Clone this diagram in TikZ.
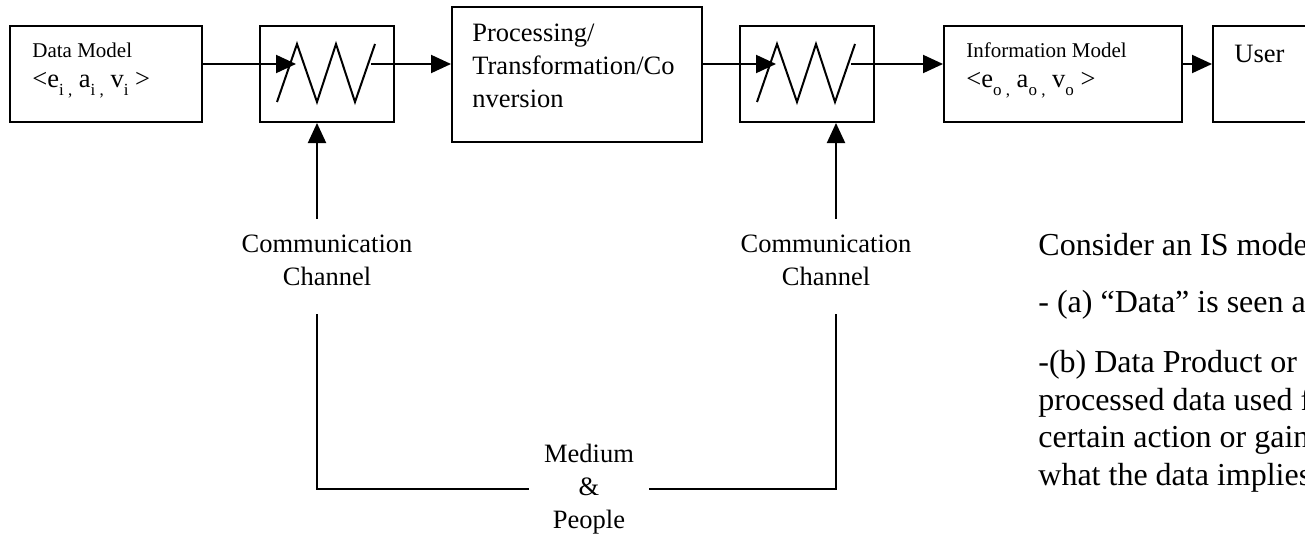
\documentclass[tikz,border=0pt]{standalone}
\usepackage{fontspec}
\setmainfont{Liberation Serif}
\usetikzlibrary{arrows.meta,calc}
\newcommand{\lowidx}[1]{\raisebox{-4pt}{\fontsize{8.5pt}{8.5pt}\selectfont #1}}
\tikzset{
  box/.style={draw,line width=1pt,inner sep=0pt,minimum height=48pt},
  flow/.style={line width=1pt,-{Triangle[length=10pt,width=9pt]}},
  wire/.style={line width=1pt},
  smalltxt/.style={inner sep=0pt,font=\fontsize{10.5pt}{12pt}\selectfont},
  midtxt/.style={inner sep=0pt,font=\fontsize{13.25pt}{16.5pt}\selectfont},
  bigtxt/.style={inner sep=0pt,font=\fontsize{16pt}{18.75pt}\selectfont}
}
\begin{document}
\begin{tikzpicture}[x=0.5pt,y=-0.5pt]
    \useasboundingbox (0,0) rectangle (1305,535);
    \clip (0,0) rectangle (1305,535);

    \node[box,minimum width=96pt] (dm) at (106,74) {};
    \node[box,minimum width=67pt] (f1) at (327,74) {};
    \node[box,minimum width=125pt,minimum height=67.5pt] (proc) at (577,74.5) {};
    \node[box,minimum width=67pt] (f2) at (807,74) {};
    \node[box,minimum width=119pt] (info) at (1063,74) {};
    \node[box,minimum width=100pt] (user) at (1313,74) {};

    \node[smalltxt,anchor=base west] (dmname) at (32,58) {Data Model};
    \node[midtxt,anchor=base west] (dmtuple) at (32,88) {<e\lowidx{i ,} a\lowidx{i ,} v\lowidx{i} >};
    \node[midtxt,align=left,anchor=north west] (proctxt) at (472,24) {Processing/\\Transformation/Co\\nversion};
    \node[smalltxt,anchor=base west] (infoname) at (966,58) {Information Model};
    \node[midtxt,anchor=base west] (infotuple) at (966,88) {<e\lowidx{o ,} a\lowidx{o ,} v\lowidx{o} >};
    \node[midtxt,anchor=base west] (usertxt) at (1234,63) {User};

    \foreach \f in {f1,f2}
        \draw[wire] ($(\f.north west)+(18,77)$) -- ++(20,-58) -- ++(20,58) -- ++(19,-58) -- ++(19,58) -- ++(20,-58);

    \coordinate (f1in) at (296,64);
    \coordinate (f1out) at (371,64);
    \coordinate (f2in) at (776,64);
    \coordinate (f2out) at (851,64);
    \draw[flow] (dm.east |- f1in) -- (f1in);
    \draw[flow] (f1out) -- (f1out -| proc.west);
    \draw[flow] (proc.east |- f2in) -- (f2in);
    \draw[flow] (f2out) -- (f2out -| info.west);
    \draw[flow] (info.east |- f2out) -- (user.west |- f2out);

    \node[midtxt,align=center] (cc1) at (327,260.5) {Communication\\Channel};
    \node[midtxt,align=center] (cc2) at (826,260.5) {Communication\\Channel};
    \node[midtxt,align=center,inner xsep=7.5pt] (med) at (589,489) {Medium\\\&\\People};

    \coordinate (c1top) at (317,219);
    \coordinate (c1bot) at (317,314);
    \coordinate (c2top) at (836,219);
    \coordinate (c2bot) at (836,314);
    \draw[flow] (c1top) -- (c1top |- f1.south);
    \draw[flow] (c2top) -- (c2top |- f2.south);
    \draw[wire] (c1bot) |- (med.west);
    \draw[wire] (med.east) -| (c2bot);

    \node[bigtxt,align=left,anchor=north west] (notes) at (1038,233) {Consider an IS mode\\[9.75pt]- (a) “Data” is seen a\\[11.25pt]-(b) Data Product or\\processed data used f\\certain action or gain\\what the data implies};
\end{tikzpicture}
\end{document}
